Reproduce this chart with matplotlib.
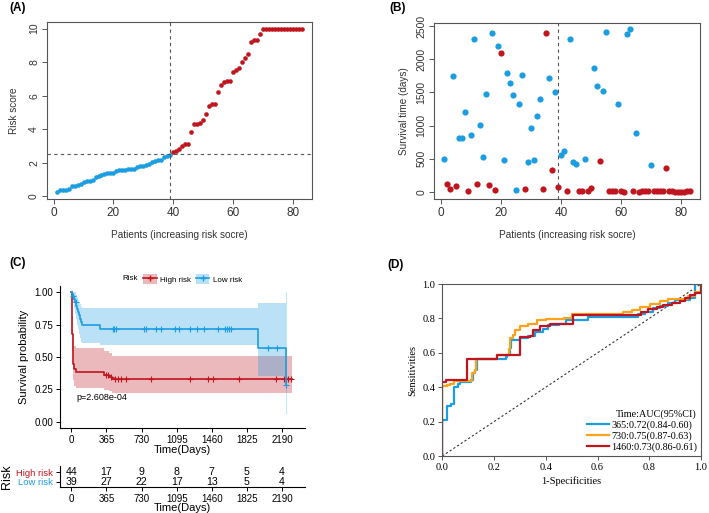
import numpy as np
import matplotlib.pyplot as plt
from matplotlib.lines import Line2D
from matplotlib.patches import Patch

plt.rcParams['font.family'] = ['Liberation Sans', 'DejaVu Sans']

BLUE = '#1B9DE2'
RED = '#C0151F'
ORANGE = '#FBA31B'

# ---- (A) risk score per patient, sorted
risk_score = [0.25, 0.38, 0.40, 0.40, 0.45, 0.60, 0.62, 0.70, 0.72, 0.85,
              0.90, 0.92, 0.98, 1.15, 1.20, 1.25, 1.35, 1.38, 1.40, 1.40,
              1.52, 1.55, 1.55, 1.60, 1.62, 1.65, 1.65, 1.78, 1.80, 1.82,
              1.88, 1.95, 2.05, 2.12, 2.15, 2.20, 2.35, 2.40, 2.48,
              2.62, 2.70, 2.85, 3.00, 3.10, 3.10, 3.85, 4.30, 4.32, 4.35,
              4.55, 4.92, 5.40, 5.50, 5.50, 6.25, 6.62, 6.82, 6.88, 6.90,
              7.40, 7.52, 7.68, 8.00, 8.22, 8.50, 9.20, 9.30, 9.30, 9.70,
              10.0, 10.0, 10.0, 10.0, 10.0, 10.0, 10.0, 10.0, 10.0, 10.0,
              10.0, 10.0, 10.0, 10.0]
cutoff_score = 2.5
n_low = 39

# ---- (B) survival time and status (1 = dead)
surv_days = [493, 116, 45, 1745, 81, 815, 805, 1202, 10, 850,
             2309, 111, 1011, 528, 1474, 101, 2404, 30, 2208, 2093,
             473, 1796, 1640, 1469, 30, 1323, 1766, 41, 453, 966,
             478, 1152, 1403, 45, 2400, 1720, 322, 1509, 66, 548,
             609, 6, 2314, 453, 418, 5, 12, 498, 5, 50,
             1877, 1600, 459, 1530, 2414, 10, 12, 12, 1323, 10,
             3, 2384, 2465, 18, 890, 3, 6, 8, 12, 403,
             5, 5, 5, 5, 362, 10, 5, 3, 3, 3,
             3, 5, 10]
status = [0, 1, 1, 0, 1, 0, 0, 0, 1, 0, 0, 1, 0, 0, 0, 1, 0, 1, 0, 1,
          0, 0, 0, 0, 0, 0, 0, 1, 0, 0, 0, 0, 0, 1, 1, 0, 1, 0, 1, 0,
          0, 1, 0, 0, 0, 1, 1, 0, 1, 1, 0, 0, 1, 0, 0, 1, 1, 1, 0, 1,
          1, 0, 0, 1, 0, 1, 1, 1, 1, 0, 1, 1, 1, 1, 1, 1, 1, 1, 1, 1,
          1, 1, 1]

# ---- (C) Kaplan-Meier steps
high_t = [0, 4, 8, 12, 18, 25, 45, 336, 388, 426, 2290]
high_s = [1.0, 0.86, 0.68, 0.55, 0.45, 0.41, 0.386, 0.364, 0.348, 0.333, 0.333]
high_lo = [1.0, 0.75, 0.55, 0.42, 0.32, 0.28, 0.263, 0.245, 0.235, 0.224, 0.224]
high_up = [1.0, 0.95, 0.82, 0.70, 0.62, 0.585, 0.567, 0.545, 0.53, 0.508, 0.508]
high_cens = [357, 381, 409, 450, 485, 520, 572, 832, 1230, 1421, 1473, 1743,
             2131, 2211, 2235, 2256, 2280]

low_t = [0, 10, 25, 40, 52, 62, 70, 80, 88, 100, 107, 301, 1940, 2228]
low_s = [1.0, 0.974, 0.949, 0.923, 0.897, 0.872, 0.846, 0.821, 0.795, 0.769,
         0.744, 0.716, 0.573, 0.287]
low_lo = [1.0, 0.92, 0.88, 0.83, 0.79, 0.75, 0.72, 0.68, 0.65, 0.62, 0.61,
          0.59, 0.35, 0.07]
low_up = [1.0, 1.0, 1.0, 1.0, 0.98, 0.96, 0.94, 0.92, 0.91, 0.89, 0.88,
          0.875, 0.92, 1.0]
low_cens = [20, 45, 433, 447, 461, 752, 780, 884, 935, 1074, 1119, 1230, 1310,
            1379, 1525, 1594, 1618, 1638, 1663, 2044, 2137, 2228]

table_times = [0, 365, 730, 1095, 1460, 1825, 2190]
high_atrisk = [44, 17, 9, 8, 7, 5, 4]
low_atrisk = [39, 27, 22, 17, 13, 5, 4]
p_text = 'p=2.608e-04'

# ---- (D) time-dependent ROC
roc365_fpr = [0, 0, 0.02, 0.035, 0.045, 0.06, 0.07, 0.11, 0.117, 0.127, 0.135,
              0.245, 0.252, 0.26, 0.265, 0.30, 0.33, 0.36, 0.39, 0.41, 0.45,
              0.48, 0.564, 0.758, 0.784, 0.816, 0.842, 0.874, 0.90, 0.957,
              0.977, 1.0]
roc365_tpr = [0, 0.21, 0.29, 0.30, 0.40, 0.42, 0.43, 0.44, 0.48, 0.50, 0.565,
              0.575, 0.59, 0.63, 0.675, 0.685, 0.70, 0.72, 0.74, 0.76, 0.77,
              0.79, 0.81, 0.825, 0.84, 0.86, 0.87, 0.89, 0.905, 0.92,
              1.0, 1.0]
roc730_fpr = [0, 0, 0.017, 0.03, 0.045, 0.113, 0.127, 0.131, 0.21, 0.258, 0.261,
              0.274, 0.281, 0.30, 0.332, 0.365, 0.40, 0.47, 0.50, 0.70, 0.732,
              0.764, 0.803, 0.842, 0.874, 0.951, 0.977, 1.0, 1.0]
roc730_tpr = [0, 0.405, 0.41, 0.42, 0.435, 0.48, 0.50, 0.565, 0.585, 0.625, 0.685,
              0.705, 0.735, 0.755, 0.77, 0.79, 0.795, 0.805, 0.825, 0.84, 0.85,
              0.865, 0.885, 0.90, 0.915, 0.93, 0.955, 0.96, 1.0]
roc1460_fpr = [0, 0, 0.015, 0.097, 0.21, 0.30, 0.339, 0.352, 0.378, 0.417,
               0.505, 0.77, 0.796, 0.828, 0.854, 0.886, 0.918, 0.937, 0.957,
               0.977, 0.99, 1.0, 1.0]
roc1460_tpr = [0, 0.43, 0.44, 0.562, 0.59, 0.69, 0.70, 0.735, 0.755, 0.77,
               0.82, 0.84, 0.853, 0.864, 0.878, 0.891, 0.903, 0.917, 0.936,
               0.945, 0.95, 0.955, 1.0]
roc_labels = ['365:0.72(0.84-0.60)', '730:0.75(0.87-0.63)', '1460:0.73(0.86-0.61)']

W, H = 709, 513
fig = plt.figure(figsize=(W / 100, H / 100), dpi=100)


def box(l, t, r, b):
    return [l / W, 1 - b / H, (r - l) / W, (b - t) / H]


def r_style(ax):
    for s in ax.spines.values():
        s.set_color('#555555')
        s.set_linewidth(0.8)
    ax.tick_params(direction='out', length=3.5, width=0.7, color='#555555',
                   labelcolor='#333333', pad=2)
    ax.tick_params(axis='x', labelsize=8.5)
    ax.tick_params(axis='y', labelsize=7.5, labelrotation=90)
    for lab in ax.get_yticklabels():
        lab.set_va('center')


idx = np.arange(1, len(risk_score) + 1)
score = np.array(risk_score)
is_low = idx <= n_low

# (A)
axA = fig.add_axes(box(46.7, 22, 312, 199))
axA.scatter(idx[is_low], score[is_low], s=11, color=BLUE, lw=0)
axA.scatter(idx[~is_low], score[~is_low], s=11, color=RED, lw=0)
axA.axvline(n_low, color='#555555', ls=(0, (3, 3)), lw=0.8)
axA.axhline(cutoff_score, color='#555555', ls=(0, (3, 3)), lw=0.8)
axA.set_xlim(-2.3, 86.3)
axA.set_ylim(-0.15, 10.39)
axA.set_xticks([0, 20, 40, 60, 80])
axA.set_yticks([0, 2, 4, 6, 8, 10])
r_style(axA)
axA.set_xlabel('Patients (increasing risk socre)', fontsize=7.2, color='#333333', labelpad=8)
axA.set_ylabel('Risk score', fontsize=7.2, color='#333333', labelpad=7)
fig.text(9 / W, 1 - 8 / H, '(A)', fontsize=8.5, fontweight='bold', va='center')

# (B)
days = np.array(surv_days)
dead = np.array(status) == 1
axB = fig.add_axes(box(434, 22.7, 700, 199))
axB.scatter(idx[~dead], days[~dead], s=20, color=BLUE, lw=0)
axB.scatter(idx[dead], days[dead], s=20, color=RED, lw=0)
axB.axvline(n_low, color='#555555', ls=(0, (3, 3)), lw=0.8)
axB.set_xlim(-2.3, 86.3)
axB.set_ylim(-110, 2555)
axB.set_xticks([0, 20, 40, 60, 80])
axB.set_yticks([0, 500, 1000, 1500, 2000, 2500])
r_style(axB)
axB.set_xlabel('Patients (increasing risk socre)', fontsize=7.2, color='#333333', labelpad=8)
axB.set_ylabel('Survival time (days)', fontsize=7.2, color='#333333', labelpad=5)
fig.text(389 / W, 1 - 8 / H, '(B)', fontsize=8.5, fontweight='bold', va='center')

# (C)
axC = fig.add_axes(box(60, 285.8, 305, 428.3))


def km(ax, t, s, lo, up, cens, color):
    t = np.array(t)
    s = np.array(s)
    ax.fill_between(t, lo, up, step='post', color=color, alpha=0.3, lw=0)
    ax.step(t, s, where='post', color=color, lw=1.2)
    ci = np.array(cens)
    k = np.searchsorted(t, ci, side='right') - 1
    ax.plot(ci, s[k], ls='none', marker='+', ms=5, mew=0.8, color=color)


km(axC, high_t, high_s, high_lo, high_up, high_cens, RED)
km(axC, low_t, low_s, low_lo, low_up, low_cens, BLUE)
axC.plot([low_t[-1], low_t[-1]], [low_lo[-1], low_up[-1]], color=BLUE, alpha=0.25, lw=0.8)
axC.set_xlim(-118, 2428)
axC.set_ylim(-0.05, 1.05)
axC.set_xticks(table_times)
axC.set_yticks([0, 0.25, 0.5, 0.75, 1.0])
axC.set_yticklabels(['0.00', '0.25', '0.50', '0.75', '1.00'])
for s in ['top', 'right']:
    axC.spines[s].set_visible(False)
for s in ['left', 'bottom']:
    axC.spines[s].set_linewidth(0.8)
axC.tick_params(direction='out', length=3, width=0.7, labelsize=7, pad=2)
axC.set_xlabel('Time(Days)', fontsize=8, labelpad=0)
axC.set_ylabel('Survival probability', fontsize=8, labelpad=4)
axC.text(50, 0.19, p_text, fontsize=6.5, ha='left', va='center')
fig.text(9 / W, 1 - 263 / H, '(C)', fontsize=8.5, fontweight='bold', va='center')

handles = [(Patch(facecolor=RED, alpha=0.3), Line2D([], [], color=RED, marker='+', ms=4, lw=1.2)),
           (Patch(facecolor=BLUE, alpha=0.3), Line2D([], [], color=BLUE, marker='+', ms=4, lw=1.2))]
fig.legend(handles, ['High risk', 'Low risk'], loc='center left',
           bbox_to_anchor=(143 / W, 1 - 279 / H), ncol=2, frameon=False,
           fontsize=5.8, handlelength=1.7, handleheight=1.4, handletextpad=0.4,
           columnspacing=0.6, borderpad=0, borderaxespad=0)
fig.text(138 / W, 1 - 279 / H, 'Risk', fontsize=5.8, ha='right', va='center')

# risk table
axT = fig.add_axes(box(60, 466, 305, 487.3))
for t, n in zip(table_times, high_atrisk):
    axT.text(t, 2, str(n), ha='center', va='center', fontsize=7.6)
for t, n in zip(table_times, low_atrisk):
    axT.text(t, 1, str(n), ha='center', va='center', fontsize=7.6)
axT.set_xlim(-118, 2428)
axT.set_ylim(0.4, 2.67)
axT.set_xticks(table_times)
axT.set_yticks([2, 1])
axT.set_yticklabels(['High risk', 'Low risk'])
for lab, c in zip(axT.get_yticklabels(), [RED, BLUE]):
    lab.set_color(c)
for s in ['top', 'right']:
    axT.spines[s].set_visible(False)
axT.spines['left'].set_linewidth(0.8)
axT.spines['bottom'].set_linewidth(0.8)
axT.tick_params(direction='out', length=3, width=0.7, labelsize=7, pad=2)
axT.tick_params(axis='y', labelsize=6.8)
axT.set_xlabel('Time(Days)', fontsize=8, labelpad=-1)
axT.set_ylabel('Risk', fontsize=9, labelpad=2)

# (D)
axD = fig.add_axes(box(442.3, 284, 701, 456))
axD.plot([0, 1], [0, 1], color='#333333', ls=(0, (2, 2)), lw=0.8)
axD.step(roc365_fpr, roc365_tpr, where='post', color=BLUE, lw=1.6, label=roc_labels[0])
axD.step(roc730_fpr, roc730_tpr, where='post', color=ORANGE, lw=1.6, label=roc_labels[1])
axD.step(roc1460_fpr, roc1460_tpr, where='post', color=RED, lw=1.6, label=roc_labels[2])
axD.set_xlim(0, 1)
axD.set_ylim(0, 1)
axD.set_xticks(np.linspace(0, 1, 6))
axD.set_yticks(np.linspace(0, 1, 6))
serif = ['Liberation Serif', 'DejaVu Serif']
for s in axD.spines.values():
    s.set_linewidth(0.8)
    s.set_color('#555555')
axD.tick_params(direction='out', length=3, width=0.7, labelsize=7.5, pad=2, color='#555555')
for lab in axD.get_xticklabels() + axD.get_yticklabels():
    lab.set_family(serif)
axD.set_xlabel('1-Specificities', fontsize=7.5, family=serif, labelpad=3)
axD.set_ylabel('Sensitivities', fontsize=7.5, family=serif, labelpad=4)
leg = axD.legend(loc='lower right', bbox_to_anchor=(1.0, 0.0), frameon=False,
                 title='Time:AUC(95%CI)', prop={'family': serif, 'size': 7.3},
                 title_fontproperties={'family': serif, 'size': 7.3},
                 handlelength=2.2, handletextpad=0.2, labelspacing=0.15,
                 borderaxespad=0.2, borderpad=0.2)
leg._legend_box.align = 'right'
fig.text(387 / W, 1 - 265 / H, '(D)', fontsize=8.5, fontweight='bold', va='center')

fig.savefig('out.png', dpi=100)
